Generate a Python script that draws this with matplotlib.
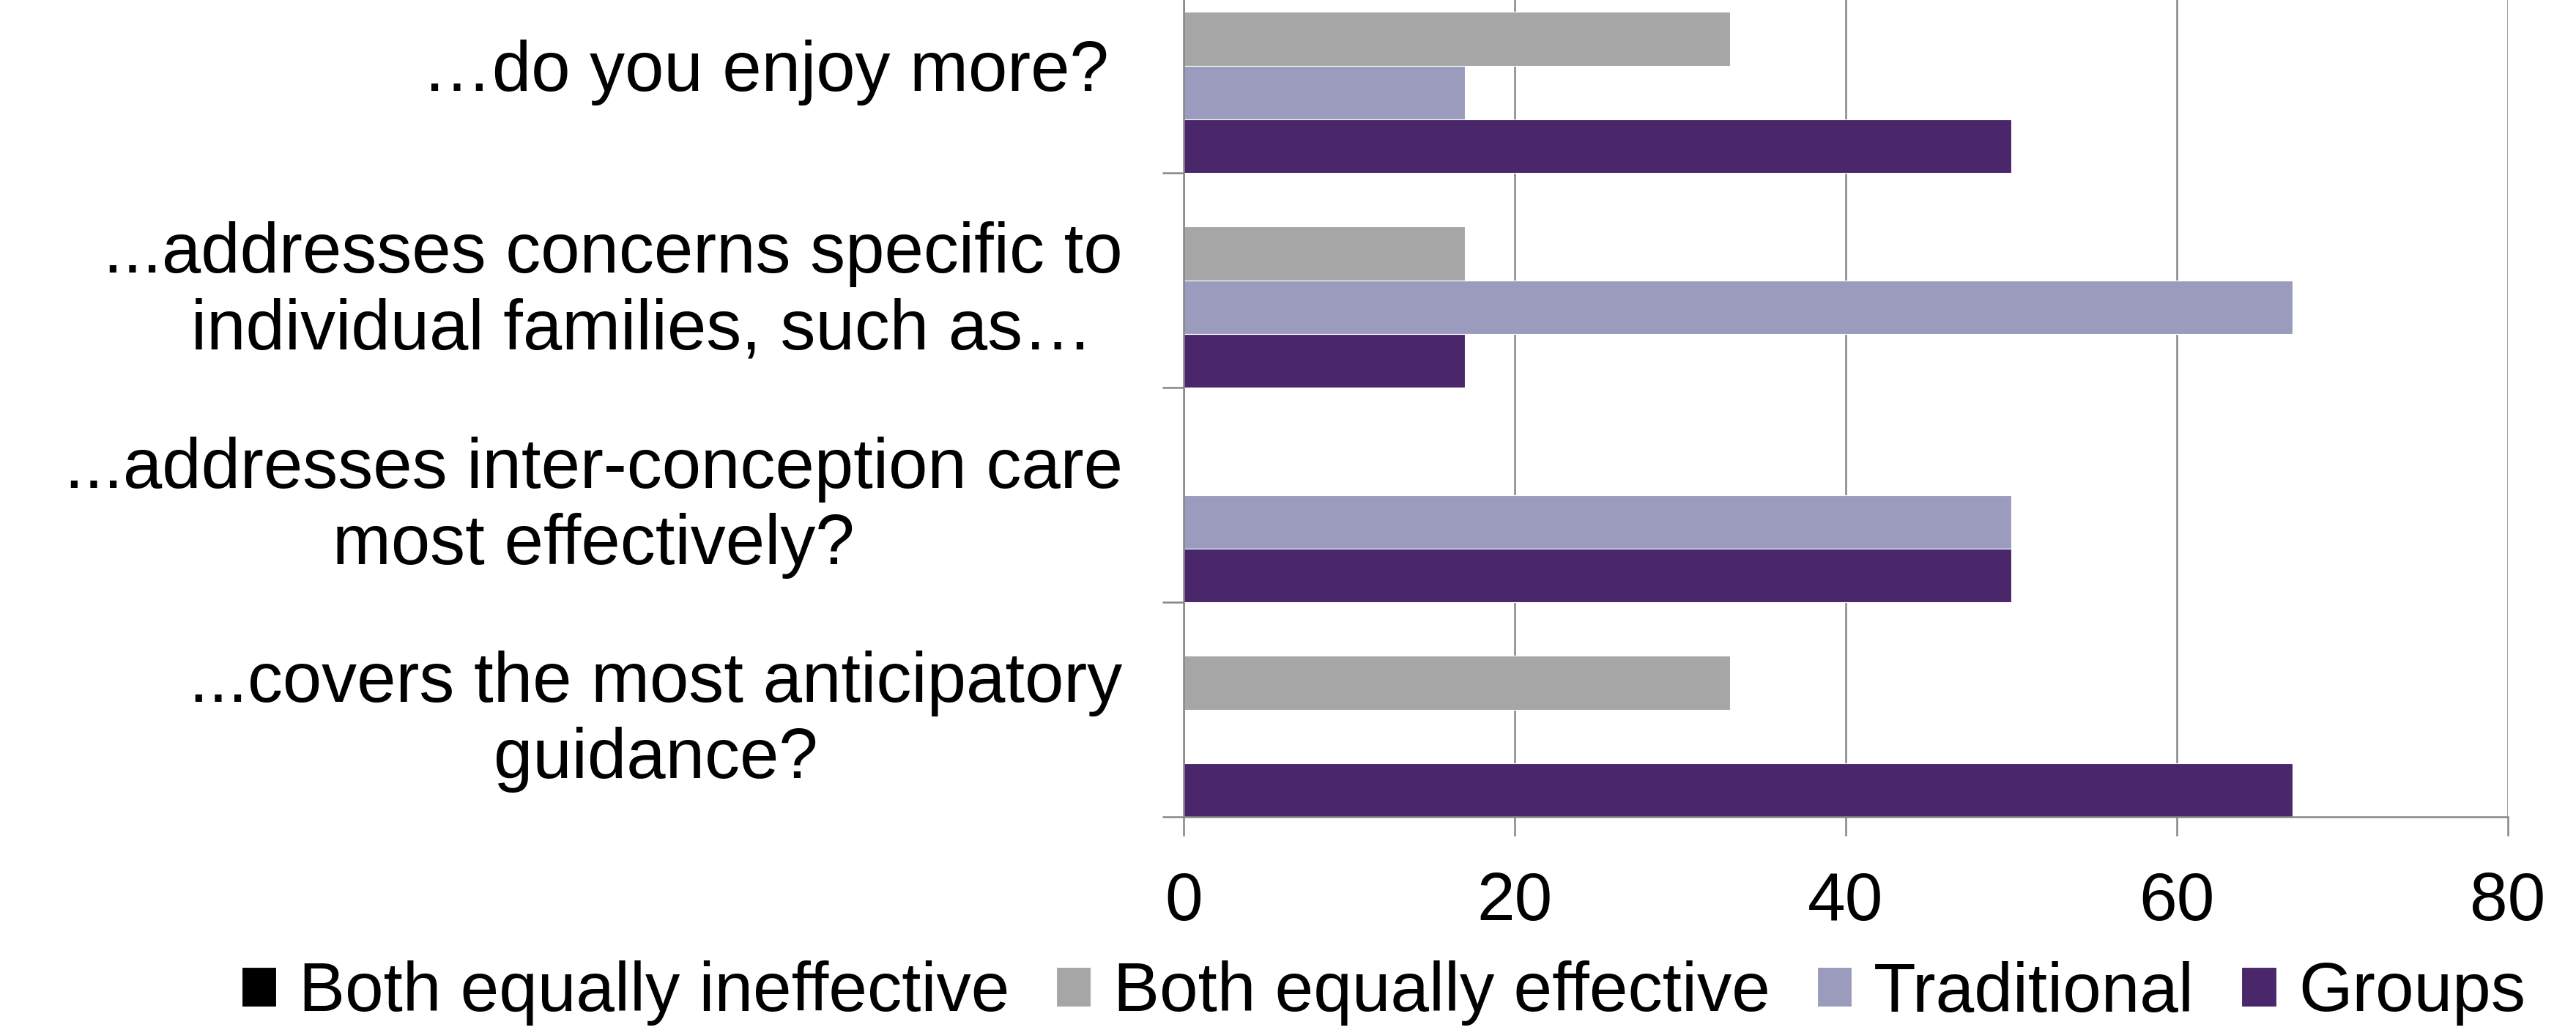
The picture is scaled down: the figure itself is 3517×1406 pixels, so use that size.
import matplotlib

matplotlib.use("Agg")

import matplotlib.pyplot as plt
import numpy as np

plt.rcParams["font.family"] = ["Liberation Sans", "DejaVu Sans"]

# Survey questions, top to bottom ("Which type of visit ...")
questions = [
    "\u2026do you enjoy more?\u2009",
    "...addresses concerns specific to\n   individual families, such as\u2026",
    "...addresses inter-conception care\nmost effectively?",
    "...covers the most anticipatory\nguidance?",
]

# Percent of respondents choosing each answer, per question
series_names = ["Both equally ineffective", "Both equally effective",
                "Traditional", "Groups"]
ineffective = [0, 0, 0, 0]
effective = [33, 17, 0, 33]
traditional = [17, 67, 50, 0]
groups = [50, 17, 50, 67]

colors = ["#000000", "#a6a6a6", "#9b9bbd", "#4a266a"]
GRID = "#868686"
FS = 67
FS_CAT = 69

W, H = 3517, 1406
fig = plt.figure(figsize=(W / 100, H / 100), dpi=100)
# plot area in pixels: x 1616..3424, bottom 1115, four bands of 293 px
left, right, bottom, band = 1616, 3424, 1115, 293
ax = fig.add_axes([left / W, (H - bottom) / H, (right - left) / W, 4 * band / H])

n_q = len(questions)
n_s = len(series_names)
h = 1.0 / n_s
for j, (vals, name, col) in enumerate(zip(
        [ineffective, effective, traditional, groups], series_names, colors)):
    y = np.arange(n_q) + h / 2 + j * h
    ax.barh(y, vals, height=h, color=col, label=name,
            edgecolor="white", linewidth=0.8)

ax.set_xlim(0, 80)
ax.set_ylim(n_q, 0)
ax.set_xticks([0, 20, 40, 60, 80])
ax.tick_params(axis="x", labelsize=FS, length=19, width=1.8, color=GRID,
               pad=34)
ax.set_yticks(np.arange(n_q + 1))
ax.set_yticklabels([])
ax.set_yticks(np.arange(n_q) + 0.5, minor=True)
ax.set_yticklabels(questions, minor=True, fontsize=FS_CAT,
                   multialignment="center")
ax.tick_params(axis="y", which="major", length=21, width=1.8, color=GRID)
ax.tick_params(axis="y", which="minor", length=0, pad=60)

ax.grid(axis="x", color=GRID, linewidth=1.8)
ax.set_axisbelow(True)
for side in ("top", "right"):
    ax.spines[side].set_visible(False)
for side in ("left", "bottom"):
    ax.spines[side].set_color(GRID)
    ax.spines[side].set_linewidth(1.8)

handles, labels = ax.get_legend_handles_labels()
fig.legend(handles, labels, loc="center", ncol=4,
           bbox_to_anchor=(1889 / W, 50 / H), frameon=False, fontsize=68,
           handlelength=0.5, handleheight=0.5, handletextpad=0.32,
           columnspacing=0.68, borderpad=0, borderaxespad=0)

fig.savefig("out.png", dpi=100)
